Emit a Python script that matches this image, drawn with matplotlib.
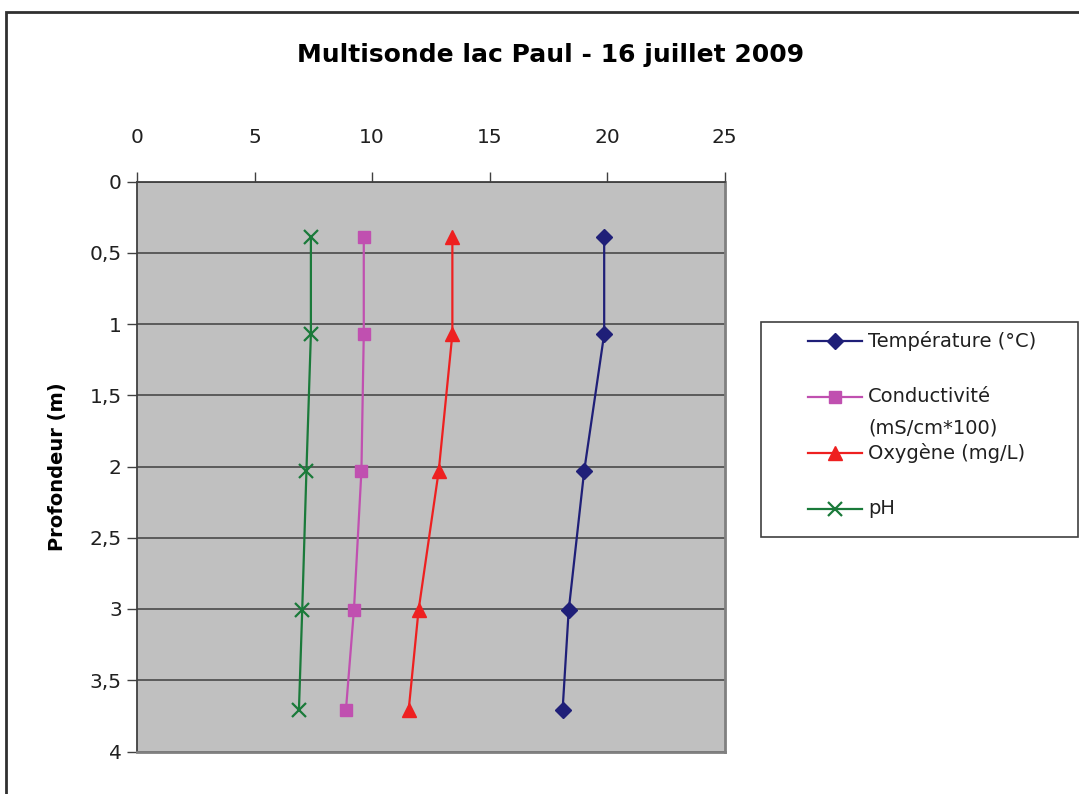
import matplotlib
matplotlib.use("Agg")
import matplotlib.pyplot as plt
from matplotlib.lines import Line2D
from matplotlib.patches import Rectangle

# ---- data ----
depth = [0.39, 1.07, 2.03, 3.01, 3.71]
temperature = [19.88, 19.88, 19.03, 18.37, 18.11]
conductivity = [9.65, 9.65, 9.55, 9.23, 8.89]
oxygen = [13.42, 13.42, 12.84, 11.98, 11.56]
ph = [7.40, 7.40, 7.21, 7.03, 6.89]

series_labels = ["Température (°C)", "Conductivité\n(mS/cm*100)", "Oxygène (mg/L)", "pH"]
x_ticks = [0, 5, 10, 15, 20, 25]
y_ticks = [0, 0.5, 1, 1.5, 2, 2.5, 3, 3.5, 4]
y_ticklabels = ["0", "0,5", "1", "1,5", "2", "2,5", "3", "3,5", "4"]
title = "Multisonde lac Paul - 16 juillet 2009"
ylabel = "Profondeur (m)"

styles = [
    dict(color="#1F1F78", marker="D", markersize=8, lw=1.6),
    dict(color="#C050B0", marker="s", markersize=8, lw=1.6),
    dict(color="#EE2020", marker="^", markersize=10, lw=1.6),
    dict(color="#1A7A3A", marker="x", markersize=10, lw=1.6, mew=1.6),
]

W, H = 1079, 794
fig = plt.figure(figsize=(W / 100, H / 100), dpi=100)
fig.patch.set_facecolor("white")

# figure frame (extends past right/bottom)
fig.patches.append(Rectangle((6 / W, -0.05), 1.1, 1 - 12 / H + 0.05, transform=fig.transFigure,
                             fill=False, edgecolor="#303030", lw=2.0, clip_on=False))

left, right, top, bottom = 137, 724.5, 181.5, 751.5
ax = fig.add_axes([left / W, 1 - bottom / H, (right - left) / W, (bottom - top) / H])
ax.set_facecolor("#C0C0C0")

values = [temperature, conductivity, oxygen, ph]
for vals, st in zip(values, styles):
    ax.plot(vals, depth, clip_on=False, zorder=3, **st)

ax.set_xlim(0, 25)
ax.set_ylim(4, 0)
ax.set_xticks(x_ticks)
ax.set_yticks(y_ticks)
ax.set_yticklabels(y_ticklabels)
ax.xaxis.tick_top()
ax.tick_params(axis="x", direction="out", length=7, width=1, color="#404040",
               labelsize=14.5, pad=18, labelcolor="#202020")
ax.tick_params(axis="y", direction="out", length=7, width=1, color="#404040",
               labelsize=14.5, pad=4, labelcolor="#202020")
ax.yaxis.grid(True, color="#404040", lw=1.1)
ax.set_axisbelow(True)
for s in ["left", "top"]:
    ax.spines[s].set_color("#404040")
    ax.spines[s].set_linewidth(1.3)
for s in ["right", "bottom"]:
    ax.spines[s].set_color("#808080")
    ax.spines[s].set_linewidth(2)

ax.set_ylabel(ylabel, fontsize=14, fontweight="bold", labelpad=16)
fig.text(551 / W, 1 - 55 / H, title, ha="center", va="center",
         fontsize=18, fontweight="bold")

# legend (manual layout)
lx0, ly0, lx1, ly1 = 761, 322, 1078, 537
fig.patches.append(Rectangle((lx0 / W, 1 - ly1 / H), (lx1 - lx0) / W, (ly1 - ly0) / H,
                             transform=fig.transFigure, fill=False, edgecolor="#404040", lw=1.2))
entry_y = [341, 397, 453, 509]
for yy, st, lab in zip(entry_y, styles, series_labels):
    yf = 1 - yy / H
    fig.lines.append(Line2D([808 / W, 862 / W], [yf, yf], transform=fig.transFigure,
                            color=st["color"], lw=st["lw"]))
    fig.lines.append(Line2D([835 / W], [yf], transform=fig.transFigure, linestyle="none",
                            marker=st["marker"], markersize=st["markersize"],
                            color=st["color"], mew=st.get("mew", 1.0)))
    lines = lab.split("\n")
    for i, t in enumerate(lines):
        fig.text(868 / W, 1 - (yy + i * 31) / H, t, ha="left", va="center",
                 fontsize=14, color="#202020")

fig.savefig("out.png", dpi=100, facecolor="white")
